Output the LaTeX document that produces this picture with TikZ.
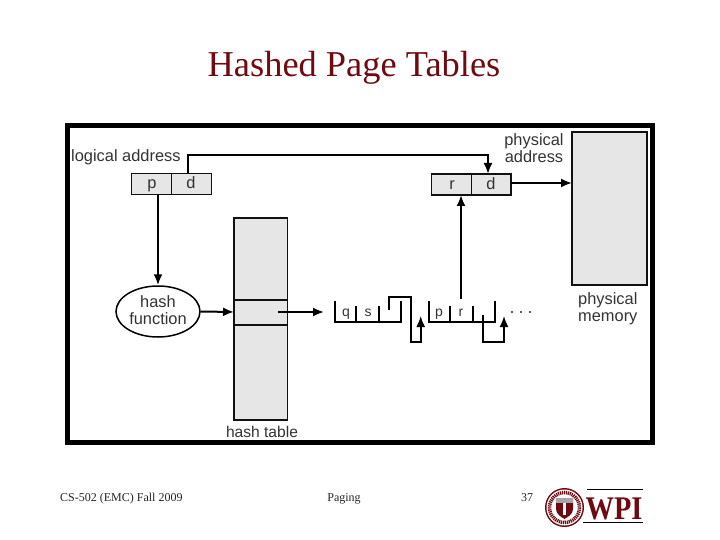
\documentclass[tikz,border=0pt]{standalone}
\usepackage{fontspec}
\setmainfont{Liberation Serif}
\newfontfamily\lab{Liberation Sans}
\usetikzlibrary{arrows.meta,shapes.geometric}
\definecolor{wpi}{HTML}{6E0A10}
\definecolor{boxg}{HTML}{E6E6E6}
\definecolor{inkc}{HTML}{111111}
\tikzset{
 x=1pt,y=-1pt,
 cell/.style={draw=inkc,line width=1.4pt,fill=boxg,inner sep=0pt,outer sep=0pt},
 lbl/.style={font=\lab\fontsize{16.4}{18}\selectfont,text=black!80,inner sep=0pt,anchor=base},
 foot/.style={font=\fontsize{12}{14}\selectfont,text=black!85,inner sep=0pt,anchor=base},
 conn/.style={draw=black,line width=2pt},
 tip/.style={-{Latex[length=11pt,width=9pt]}},
 lst/.style={draw=black,line width=1.7pt}
}
\begin{document}
\begin{tikzpicture}
\useasboundingbox (0,0) rectangle (720,540);
\fill[white] (0,0) rectangle (720,540);
\node[font=\fontsize{36.4}{40}\selectfont,text=wpi,inner sep=0pt,anchor=base] (title) at (354,76.5) {Hashed Page Tables};
% frame
\node[draw=black,line width=5pt,minimum width=585pt,minimum height=317pt,inner sep=0pt] (frame) at (360,284) {};
% memory
\path[cell,line width=1.6pt] (572,132) rectangle (647,285);
\coordinate (memtl) at (572,183);
% logical
\path[cell] (131.5,173.5) rectangle (171.7,194.7);
\path[cell] (171.7,173.5) rectangle (211.5,194.7);
\path[cell] (431.7,174) rectangle (471.5,195);
\path[cell] (471.5,174) rectangle (511,195);
\coordinate (la) at (158,194.7);
\coordinate (ld) at (188,173.5);
\coordinate (pd) at (488,174);
\coordinate (pr) at (461,195);
\coordinate (po) at (511,183);
% table
\path[cell] (234,218) rectangle (287.5,420);
\draw[inkc,line width=1.4pt] (234,300) -- (287.5,300) (234,325) -- (287.5,325);
\coordinate (tin) at (234,312);
\coordinate (tout) at (278,312);
\coordinate (lin) at (324,312);
% ellipse
\node[ellipse,draw=black,line width=1.5pt,fill=white,minimum width=84pt,minimum height=51pt,inner sep=0pt] (hash) at (158,311.5) {};
\node[lbl] (h1) at (158,307) {hash};
\node[lbl] (h2) at (158,324.5) {function};
\draw[conn,tip] (la) -- (hash.north);
\draw[conn,tip] (hash.east) -- (tin);
\draw[conn,tip] (tout) -- (lin);
\draw[conn,tip] (ld) -- (188,155) -- (488,155) -- (pd);
\draw[conn,tip] (po) -- (memtl);
% list
\draw[lst] (334.7,301) -- (334.7,322) -- (400.7,322) -- (400.7,301);
\draw[lst] (355.7,306) -- (355.7,322) (379.3,306) -- (379.3,322);
\draw[lst] (429,301) -- (429,322) -- (495,322) -- (495,301);
\draw[lst] (450,306) -- (450,322) (473.3,306) -- (473.3,322);
\coordinate (r1) at (461,299);
\draw[conn,tip] (r1) -- (pr);
\coordinate (a1) at (420.7,316);
\coordinate (a2) at (504,316);
\draw[lst,tip] (389.3,310) -- (389.3,296.7) -- (410.7,296.7) -- (410.7,342.3) -- (420.7,342.3) -- (a1);
\draw[lst,tip] (483.3,315) -- (483.3,342.3) -- (504,342.3) -- (a2);
\foreach \x in {512,521,530} \fill[black!85] (\x,312) circle (1.2pt);
% labels
\node[lbl,anchor=base west] (t1) at (71,162) {logical address};
\node[lbl] (t2) at (534,146) {physical};
\node[lbl] (t3) at (534,163) {address};
\node[lbl,anchor=base west] (t4) at (578,304) {physical};
\node[lbl,anchor=base west] (t5) at (578,321) {memory};
\node[lbl,font=\lab\fontsize{15.6}{18}\selectfont] (t6) at (262,437.5) {hash table};
\node[lbl] (c1) at (152,189) {p};
\node[lbl] (c2) at (191,189) {d};
\node[lbl] (c3) at (452,190) {r};
\node[lbl] (c4) at (491,190) {d};
\node[lbl,font=\lab\fontsize{14}{18}\selectfont] (c5) at (346,316.5) {q};
\node[lbl,font=\lab\fontsize{14}{18}\selectfont] (c6) at (368,316.5) {s};
\node[lbl,font=\lab\fontsize{14}{18}\selectfont] (c7) at (439,316.5) {p};
\node[lbl,font=\lab\fontsize{14}{18}\selectfont] (c8) at (461,316.5) {r};
% footer
\node[foot,anchor=base west] (f1) at (60,501) {CS-502 (EMC) Fall 2009};
\node[foot] (f2) at (344,501) {Paging};
\node[foot] (f3) at (527,501) {37};
% logo
\fill[wpi] (564.5,507.5) circle (19.5);
\fill[white] (564.5,507.5) circle (18);
\draw[wpi,line width=3.5pt,dash pattern=on 1.2pt off .8pt] (564.5,507.5) circle (15);
\fill[white] (564.5,507.5) circle (12);
\fill[wpi] (556,498) -- (573,498) -- (573,509) .. controls (573,514) and (568,517) .. (564.5,519) .. controls (561,517) and (556,514) .. (556,509) -- cycle;
\fill[black!35] (556,498) rectangle (573,503);
\fill[white] (563,503) rectangle (566,515);
\draw[black,line width=1pt] (587,489.5) -- (643,489.5) (583,522) -- (643,522);
\node[font=\bfseries\fontsize{33}{34}\selectfont,text=wpi,inner sep=0pt,anchor=base] (wpi) at (614,519) {\scalebox{.86}[1]{WPI}};
\end{tikzpicture}
\end{document}
